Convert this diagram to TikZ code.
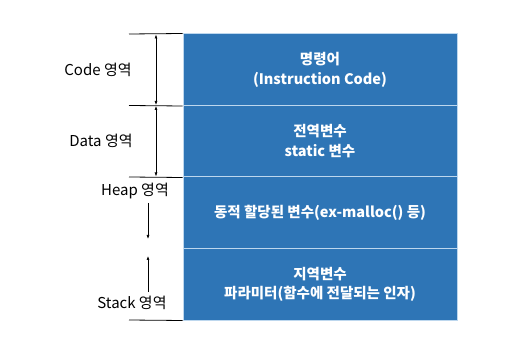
\documentclass[tikz,border=0pt]{standalone}
\usepackage{fontspec}
\setmainfont{Noto Sans CJK KR}
\usepackage{tikz}
\usetikzlibrary{arrows.meta}

\definecolor{boxblue}{RGB}{46,117,182}
\definecolor{boxline}{RGB}{189,215,238}

\tikzset{
  membox/.style={rectangle, fill=boxblue, draw=boxline, line width=1pt,
    minimum width=274pt, minimum height=71.5pt, inner sep=0pt,
    text=white, font=\fontsize{14.5}{19.5}\selectfont\bfseries, align=center},
  arealabel/.style={font=\fontsize{15}{18}\selectfont, inner sep=0pt},
  ticklINE/.style={line width=0.8pt},
  spanarrow/.style={line width=0.6pt, {Latex[length=4pt,width=3pt]}-{Latex[length=4pt,width=3pt]}},
  growarrow/.style={line width=0.6pt, -{Latex[length=4pt,width=3pt]}}
}

\begin{document}
\begin{tikzpicture}[x=1pt,y=-1pt]
		% Canvas
		\useasboundingbox (0,0) rectangle (527,355);
		
		% Memory blocks
		\node[membox] (code) at (320,69.75) {명령어\\(Instruction Code)};
		\node[membox] (data) at (320,141.25) {전역변수\\static 변수};
		\node[membox] (heap) at (320,212.75) {동적 할당된 변수(ex-malloc() 등)};
		\node[membox] (stack) at (320,284.25) {지역변수\\파라미터(함수에 전달되는 인자)};
		
		% Tick marks on the left
		\coordinate (t0) at (129,34);
		\coordinate (t1) at (129,105.5);
		\coordinate (t2) at (129,177);
		\coordinate (t3) at (129,320);
		\draw[ticklINE] (t0) -- (code.north west);
		\draw[ticklINE] (t1) -- (code.south west);
		\draw[ticklINE] (t2) -- (data.south west);
		\draw[ticklINE] (t3) -- (stack.south west);
		
		% Code and Data extents
		\coordinate (c0) at (156,34.5);
		\coordinate (c1) at (156,105);
		\coordinate (d0) at (156,106);
		\coordinate (d1) at (156,176.5);
		\draw[spanarrow] (c0) -- (c1);
		\draw[spanarrow] (d0) -- (d1);
		
		% Heap grows down, stack grows up
		\coordinate (h0) at (148,203);
		\coordinate (h1) at (148,239);
		\coordinate (s0) at (148,292);
		\coordinate (s1) at (148,256);
		\draw[growarrow] (h0) -- (h1);
		\draw[growarrow] (s0) -- (s1);
		
		% Area labels
		\node[arealabel] (codelbl) at (98,70) {Code 영역};
		\node[arealabel] (datalbl) at (101,141) {Data 영역};
		\node[arealabel] (heaplbl) at (135,191) {Heap 영역};
		\node[arealabel] (stacklbl) at (132,303) {Stack 영역};
	\end{tikzpicture}
\end{document}
